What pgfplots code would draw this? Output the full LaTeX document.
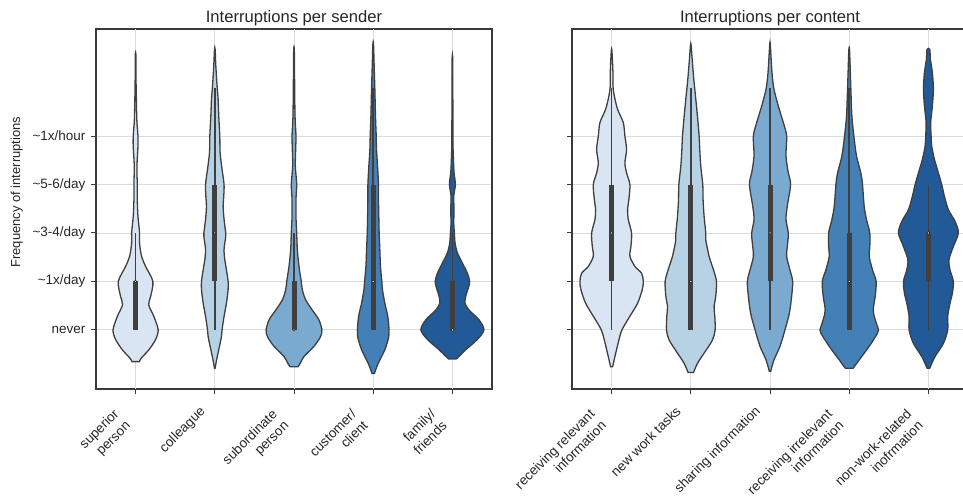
\documentclass[border=0pt]{standalone}
\usepackage{pgfplots}
\pgfplotsset{compat=1.18}
\usepackage{pgfplotstable}
\usepackage{fontspec}
\setmainfont{Liberation Sans}
\definecolor{c1}{HTML}{D9E5F2}
\definecolor{c2}{HTML}{B7D1E5}
\definecolor{c3}{HTML}{7AAACF}
\definecolor{c4}{HTML}{4280B6}
\definecolor{c5}{HTML}{215A96}
\definecolor{vedge}{HTML}{3F3F3F}
\definecolor{gridc}{HTML}{DCDCDC}
\definecolor{framec}{HTML}{3A3A3A}

% ---- violin outlines: y value, half width (x units) ----
\pgfplotstableread{
y w
-0.655 0.046
-0.586 0.070
-0.41 0.168
-0.2 0.252
0 0.285
0.28 0.23
0.52 0.165
0.69 0.19
1.0 0.218
1.31 0.126
1.52 0.075
1.79 0.05
2.0 0.05
2.34 0.03
2.69 0.021
3.0 0.021
3.38 0.017
3.79 0.03
4.0 0.03
4.28 0.017
4.48 0.013
5.1 0.006
5.67 0.004
}\vA
\pgfplotstableread{
y w
-0.79 0.004
-0.6 0.025
-0.41 0.05
-0.14 0.084
0 0.092
0.28 0.117
0.55 0.147
0.83 0.168
1.0 0.168
1.24 0.147
1.45 0.126
1.66 0.117
1.93 0.138
2.0 0.138
2.28 0.117
2.55 0.105
2.76 0.113
3.0 0.117
3.31 0.092
3.66 0.067
4.0 0.063
4.41 0.05
4.76 0.042
5.03 0.029
5.45 0.013
5.79 0.004
}\vB
\pgfplotstableread{
y w
-0.76 0.05
-0.7 0.075
-0.55 0.126
-0.34 0.252
-0.14 0.335
0 0.352
0.21 0.314
0.41 0.23
0.62 0.147
0.83 0.105
1.0 0.092
1.31 0.063
1.66 0.042
2.0 0.034
2.34 0.025
2.7 0.025
3.0 0.034
3.38 0.017
3.72 0.021
4.0 0.025
4.41 0.013
5.1 0.008
5.77 0.004
}\vC
\pgfplotstableread{
y w
-0.9 0.015
-0.69 0.063
-0.41 0.147
-0.14 0.197
0 0.2
0.28 0.184
0.55 0.147
0.83 0.117
1.0 0.109
1.31 0.092
1.66 0.084
2.0 0.075
2.34 0.071
2.69 0.067
3.0 0.067
3.38 0.055
3.72 0.042
4.0 0.038
4.41 0.029
4.97 0.021
5.4 0.013
5.9 0.004
}\vD
\pgfplotstableread{
y w
-0.6 0.05
-0.52 0.10
-0.41 0.168
-0.2 0.314
0 0.398
0.21 0.335
0.41 0.21
0.55 0.159
0.69 0.168
0.86 0.2
1.0 0.218
1.17 0.189
1.38 0.126
1.59 0.063
1.79 0.034
2.0 0.025
2.2 0.017
2.48 0.021
2.76 0.017
3.0 0.038
3.24 0.021
3.52 0.013
3.8 0.008
4.5 0.006
5.57 0.004
}\vE
\pgfplotstableread{
y w
-0.76 0.013
-0.55 0.042
-0.21 0.092
0 0.13
0.28 0.23
0.55 0.328
0.83 0.387
1.0 0.4
1.17 0.378
1.31 0.294
1.52 0.231
1.72 0.244
2.0 0.252
2.28 0.21
2.48 0.202
2.69 0.218
3.0 0.231
3.24 0.189
3.45 0.168
3.72 0.189
4.0 0.168
4.28 0.147
4.55 0.076
4.83 0.034
5.03 0.017
5.31 0.017
5.76 0.004
}\vF
\pgfplotstableread{
y w
-0.88 0.034
-0.69 0.084
-0.48 0.168
-0.21 0.273
0 0.307
0.28 0.303
0.48 0.294
0.69 0.315
1.0 0.324
1.24 0.286
1.52 0.231
1.86 0.189
2.0 0.189
2.34 0.168
2.69 0.155
3.0 0.151
3.38 0.126
3.72 0.113
4.0 0.105
4.41 0.084
4.83 0.059
5.17 0.038
5.59 0.017
5.88 0.004
}\vG
\pgfplotstableread{
y w
-0.86 0.008
-0.62 0.05
-0.34 0.126
0 0.189
0.34 0.244
0.69 0.273
1.0 0.286
1.24 0.252
1.52 0.21
1.79 0.223
2.0 0.231
2.28 0.202
2.55 0.218
3.0 0.26
3.24 0.231
3.59 0.202
4.0 0.21
4.28 0.168
4.62 0.105
4.97 0.05
5.31 0.025
5.88 0.004
}\vH
\pgfplotstableread{
y w
-0.79 0.05
-0.62 0.126
-0.34 0.252
-0.07 0.357
0 0.37
0.21 0.328
0.41 0.303
0.69 0.328
1.0 0.34
1.24 0.294
1.52 0.252
1.72 0.26
2.0 0.26
2.28 0.218
2.55 0.189
3.0 0.168
3.24 0.147
3.59 0.092
4.0 0.059
4.41 0.034
4.97 0.021
5.38 0.013
5.79 0.004
}\vI
\pgfplotstableread{
y w
-0.79 0.017
-0.55 0.084
-0.28 0.189
0 0.244
0.28 0.244
0.55 0.273
0.76 0.303
1.0 0.315
1.24 0.273
1.45 0.26
1.72 0.315
2.0 0.378
2.24 0.336
2.48 0.252
2.76 0.202
3.0 0.168
3.24 0.126
3.52 0.076
3.79 0.042
4.0 0.034
4.28 0.029
4.62 0.05
4.97 0.063
5.31 0.05
5.59 0.025
5.79 0.017
}\vJ

% build closed outline: right side upwards, then left side downwards
\newcommand{\prepviolin}[1]{%
  \pgfplotstablesort[sort key=y, sort cmp=float >]{\tmprev}{#1}%
  \pgfplotstablecreatecol[expr={\thisrow{w}}]{d}{#1}%
  \pgfplotstablecreatecol[expr={-\thisrow{w}}]{d}{\tmprev}%
  \pgfplotstablevertcat{#1}{\tmprev}%
}
\prepviolin{\vA}\prepviolin{\vB}\prepviolin{\vC}\prepviolin{\vD}\prepviolin{\vE}
\prepviolin{\vF}\prepviolin{\vG}\prepviolin{\vH}\prepviolin{\vI}\prepviolin{\vJ}

% violin: table, center, colour
\newcommand{\violin}[3]{%
  \addplot[fill=#3, draw=vedge, line width=1.3pt, smooth, forget plot]
    table[x expr={#2+\thisrow{d}}, y=y] {#1} -- cycle;
}
% inner box: center, q1, q3, whisker low, whisker high, median
\newcommand{\vinner}[6]{%
  \addplot[vedge, line width=1.5pt, forget plot] coordinates {(#1,#4) (#1,#5)};
  \addplot[vedge, line width=5pt, forget plot] coordinates {(#1,#2) (#1,#3)};
  \addplot[only marks, mark=*, mark size=1.3pt, draw=none, fill=white, forget plot] coordinates {(#1,#6)};
}

\pgfplotsset{vstyle/.style={
  scale only axis, width=396pt, height=360pt,
  xmin=-0.5, xmax=4.5, ymin=-1.22, ymax=6.21,
  ytick={0,1,2,3,4},
  grid=major, major grid style={gridc, line width=0.8pt},
  tick align=outside, xtick pos=left, ytick pos=left,
  major tick length=5pt, tick style={framec, line width=1pt},
  axis line style={framec, line width=1.2pt},
  ticklabel style={font=\fontsize{13.5}{16.2}\selectfont, text=black!85},
  yticklabel style={xshift=-2pt},
  xticklabel style={rotate=45, anchor=north east, inner sep=0pt, align=right, xshift=-19.1pt, yshift=3.5pt},
  extra x tick style={grid=major, xticklabel style={xshift=-7.1pt, yshift=2.9pt}},
  every axis title/.style={at={(rel axis cs:0.5,1)}, anchor=base, yshift=6pt, inner sep=0pt, font=\fontsize{16.6}{19}\selectfont, text=black!85},
}}

\begin{document}
\begin{tikzpicture}[x=1pt,y=1pt]
\begin{axis}[vstyle, at={(96pt,107pt)}, anchor=south west,
  title={Interruptions per sender},
  yticklabels={never,{\textasciitilde 1x/day},{\textasciitilde 3-4/day},{\textasciitilde 5-6/day},{\textasciitilde 1x/hour}},
  xtick={1}, xticklabels={colleague},
  extra x ticks={0,2,3,4},
  extra x tick labels={{superior\\person},{subordinate\\person},{customer/\\client},{family/\\friends}},
  ylabel={Frequency of interruptions},
  every axis y label/.style={at={(rel axis cs:-0.2,0.547)}, rotate=90, anchor=center, font=\fontsize{13}{16}\selectfont, text=black!85},
]
\violin{\vA}{0}{c1}
\violin{\vB}{1}{c2}
\violin{\vC}{2}{c3}
\violin{\vD}{3}{c4}
\violin{\vE}{4}{c5}
\vinner{0}{0}{1}{0}{2}{1}
\vinner{1}{1}{3}{0}{5}{2}
\vinner{2}{0}{1}{0}{2}{0}
\vinner{3}{0}{3}{0}{5}{1}
\vinner{4}{0}{1}{0}{2}{0}
\end{axis}
\begin{axis}[vstyle, at={(572pt,107pt)}, anchor=south west,
  title={Interruptions per content},
  yticklabels={},
  xtick={1,2}, xticklabels={{new work tasks},{sharing information}},
  extra x ticks={0,3,4},
  extra x tick labels={{receiving relevant\\information},{receiving irrelevant\\information},{non-work-related\\inofrmation}},
]
\violin{\vF}{0}{c1}
\violin{\vG}{1}{c2}
\violin{\vH}{2}{c3}
\violin{\vI}{3}{c4}
\violin{\vJ}{4}{c5}
\vinner{0}{1}{3}{0}{5}{2}
\vinner{1}{0}{3}{0}{5}{1}
\vinner{2}{1}{3}{0}{5}{2}
\vinner{3}{0}{2}{0}{5}{1}
\vinner{4}{1}{2}{0}{3}{2}
\end{axis}
\pgfresetboundingbox
\path[use as bounding box] (0,0) rectangle (963,496);
\end{tikzpicture}
\end{document}
